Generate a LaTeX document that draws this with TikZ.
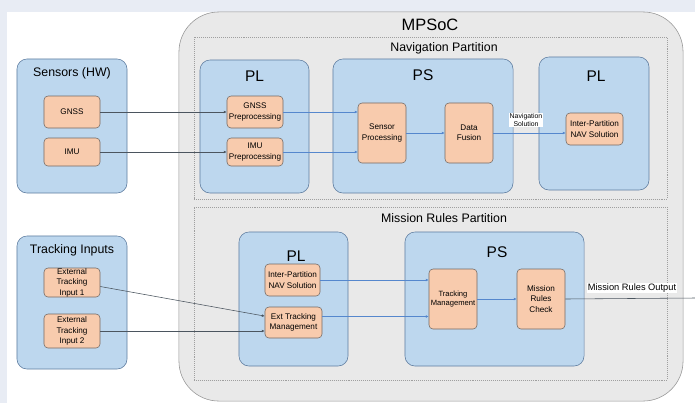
\documentclass[tikz,border=0pt]{standalone}
\usepackage{fontspec}
\setmainfont{Liberation Sans}
\usepackage{tikz}
\usetikzlibrary{shapes,arrows.meta,positioning,calc}
\definecolor{framebg}{RGB}{232,236,244}
\definecolor{socfill}{RGB}{233,233,233}
\definecolor{socdraw}{RGB}{150,150,150}
\definecolor{grpfill}{RGB}{189,215,238}
\definecolor{grpdraw}{RGB}{95,125,160}
\definecolor{blkfill}{RGB}{248,203,173}
\definecolor{blkdraw}{RGB}{115,105,100}
\definecolor{flowblue}{RGB}{85,135,205}
\definecolor{flowdark}{RGB}{75,85,95}

\begin{document}
\begin{tikzpicture}[x=0.025cm, y=-0.025cm,
    grp/.style={draw=grpdraw, fill=grpfill, rounded corners=0.25cm, inner sep=0pt},
    blk/.style={draw=blkdraw, fill=blkfill, rounded corners=0.1cm, inner sep=0pt, align=center,
                font=\fontsize{5.8}{7.4}\selectfont},
    part/.style={draw=gray!75, densely dotted, inner sep=0pt},
    grptitle/.style={font=\fontsize{8.8}{10}\selectfont},
    bigtitle/.style={font=\fontsize{11}{12}\selectfont},
    flow/.style={draw=flowblue, -{Latex[length=2pt,width=2pt]}},
    extflow/.style={draw=flowdark, -{Latex[length=2pt,width=2pt]}}]
    \useasboundingbox (0,0) rectangle (695,403);
    \fill[white] (0,0) rectangle (695,403);
    \fill[framebg] (0,0) rectangle (695,12);
    \fill[framebg] (0,0) rectangle (7,403);

    % MPSoC
    \node[draw=socdraw, fill=socfill, rounded corners=1cm, minimum width=12.6cm, minimum height=9.725cm] (mpsoc) at (431,206.5) {};
    \node[font=\fontsize{11.7}{13}\selectfont] (mpsoctitle) at (430,25) {MPSoC};
    \node[part, minimum width=11.825cm, minimum height=4.05cm] (navpart) at (430.5,118) {};
    \node[grptitle] (navtitle) at (444,48) {Navigation Partition};
    \node[part, minimum width=11.825cm, minimum height=4.325cm] (misspart) at (430.5,293.5) {};
    \node[grptitle] (misstitle) at (444,218) {Mission Rules Partition};

    % inputs
    \node[grp, minimum width=2.75cm, minimum height=3.35cm] (sensors) at (72,126) {};
    \node[grptitle] (sensorstitle) at (72,73) {Sensors (HW)};
    \node[blk, minimum width=1.4cm, minimum height=0.8cm] (gnss) at (72,112) {GNSS};
    \node[blk, minimum width=1.4cm, minimum height=0.7cm] (imu) at (72,152) {IMU};

    \node[grp, minimum width=2.75cm, minimum height=3.325cm] (tracking) at (72,302.5) {};
    \node[grptitle] (trackingtitle) at (72,250) {Tracking Inputs};
    \node[blk, minimum width=1.4cm, minimum height=0.725cm] (ext1) at (72,282.5) {External\\Tracking\\Input 1};
    \node[blk, minimum width=1.4cm, minimum height=0.85cm] (ext2) at (72,331) {External\\Tracking\\Input 2};

    % navigation partition
    \node[grp, minimum width=2.725cm, minimum height=3.325cm] (plnav) at (254.5,126.5) {};
    \node[bigtitle] (plnavtitle) at (254.5,76) {PL};
    \node[blk, minimum width=1.4cm, minimum height=0.8cm] (gnsspre) at (255,112) {GNSS\\Preprocessing};
    \node[blk, minimum width=1.4cm, minimum height=0.7cm] (imupre) at (255,152) {IMU\\Preprocessing};

    \node[grp, minimum width=4.5cm, minimum height=3.35cm] (psnav) at (423,126) {};
    \node[bigtitle] (psnavtitle) at (423,75) {PS};
    \node[blk, minimum width=1.2cm, minimum height=1.5cm] (sensproc) at (382,133) {Sensor\\Processing};
    \node[blk, minimum width=1.2cm, minimum height=1.5cm] (fusion) at (469,133) {Data\\Fusion};

    \node[grp, minimum width=2.75cm, minimum height=3.325cm] (plout) at (594,123.5) {};
    \node[bigtitle] (plouttitle) at (596,76) {PL};
    \node[blk, minimum width=1.425cm, minimum height=0.8cm] (navsol) at (594.5,129) {Inter-Partition\\NAV Solution};

    % mission rules partition
    \node[grp, minimum width=2.725cm, minimum height=3.35cm] (plmiss) at (293.5,299) {};
    \node[bigtitle] (plmisstitle) at (296,256) {PL};
    \node[blk, minimum width=1.375cm, minimum height=0.8cm] (navsolin) at (292.5,280) {Inter-Partition\\NAV Solution};
    \node[blk, minimum width=1.425cm, minimum height=0.775cm] (exttrack) at (293.5,322.5) {Ext Tracking\\Management};

    \node[grp, minimum width=4.475cm, minimum height=3.35cm] (psmiss) at (494.5,299) {};
    \node[bigtitle] (psmisstitle) at (497,252) {PS};
    \node[blk, minimum width=1.2cm, minimum height=1.5cm, font=\fontsize{5.4}{7}\selectfont] (trackman) at (453,299) {Tracking\\Management};
    \node[blk, minimum width=1.2cm, minimum height=1.5cm] (rules) at (541,299) {Mission\\Rules\\Check};
    \coordinate (outend) at (695,298);

    % connections
    \draw[extflow] (gnss) -- (gnsspre);
    \draw[extflow] (imu) -- (imupre);
    \draw[flow] (gnsspre.east) -- (sensproc.west |- gnsspre.east);
    \draw[flow] (imupre.east) -- (sensproc.west |- imupre.east);
    \draw[flow] (sensproc) -- (fusion);
    \draw[flow] (fusion) -- (navsol.west |- fusion);
    \node[fill=white, inner sep=0.5pt, align=center, font=\fontsize{4.9}{6}\selectfont] (navsollabel) at (526,120) {Navigation\\Solution};

    \draw[extflow] ([yshift=-0.1cm]ext1.east) -- ([yshift=0.16cm]exttrack.west);
    \draw[extflow] (ext2.east) -- (exttrack.west |- ext2.east);
    \draw[flow] (navsolin.east) -- (trackman.west |- navsolin.east);
    \draw[flow] ([yshift=0.15cm]exttrack.east) -- ([yshift=0.15cm]trackman.west |- exttrack.east);
    \draw[flow] (trackman) -- (rules);
    \draw[flowdark] (rules.east) -- (outend);
    \node[fill=white, inner sep=0.8pt, font=\fontsize{6.6}{8}\selectfont] (outlabel) at (632,288) {Mission Rules Output};
\end{tikzpicture}
\end{document}
